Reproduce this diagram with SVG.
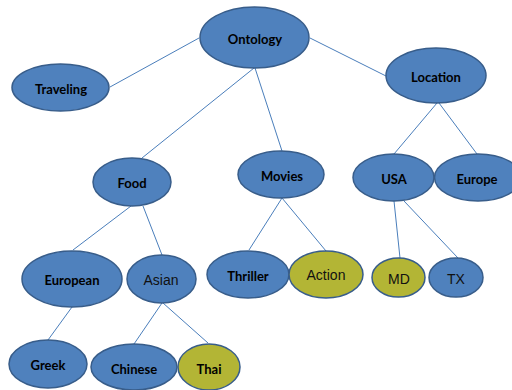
<svg xmlns="http://www.w3.org/2000/svg" width="512" height="390" viewBox="0 0 512 390">
<style>
.n{fill:#4F81BD;stroke:#385D8A;stroke-width:1.5}
.y{fill:#B3B535;stroke:#385D8A;stroke-width:1.5}
.b{font-family:Lato,"Liberation Sans",sans-serif;font-weight:bold;font-size:13px;fill:#000;text-anchor:middle;dominant-baseline:central}
.r{font-family:"Liberation Sans",Arial,sans-serif;font-size:14px;fill:#111;text-anchor:middle;dominant-baseline:central}
#connectors line{stroke:#4A7EBB;stroke-width:1}
</style>
<rect width="512" height="390" fill="#fff"/>
<g id="connectors">
<line x1="199" y1="38" x2="110" y2="87"/>
<line x1="310" y1="38" x2="386" y2="76"/>
<line x1="254" y1="68" x2="142" y2="158"/>
<line x1="255" y1="68" x2="282" y2="151"/>
<line x1="437" y1="103" x2="394" y2="154"/>
<line x1="439" y1="103" x2="477" y2="154"/>
<line x1="131" y1="206" x2="73" y2="250"/>
<line x1="143" y1="206" x2="162" y2="255"/>
<line x1="282" y1="198" x2="249" y2="250"/>
<line x1="282" y1="198" x2="326" y2="251"/>
<line x1="394" y1="201" x2="400" y2="258"/>
<line x1="404" y1="201" x2="458" y2="258"/>
<line x1="72" y1="307" x2="48" y2="340"/>
<line x1="162" y1="303" x2="134" y2="344"/>
<line x1="163" y1="303" x2="208" y2="343"/>
</g>
<g id="ontology"><ellipse class="n" cx="254.5" cy="37.5" rx="54.5" ry="30.5"/><text class="b" x="255" y="39">Ontology</text></g>
<g id="traveling"><ellipse class="n" cx="60.5" cy="87.5" rx="48.5" ry="23.5"/><text class="b" x="61" y="89">Traveling</text></g>
<g id="location"><ellipse class="n" cx="436" cy="75.5" rx="50" ry="27.5"/><text class="b" x="436" y="77">Location</text></g>
<g id="food"><ellipse class="n" cx="132" cy="182" rx="39" ry="24"/><text class="b" x="132" y="183">Food</text></g>
<g id="movies"><ellipse class="n" cx="281" cy="174.5" rx="43" ry="23.5"/><text class="b" x="282" y="176">Movies</text></g>
<g id="usa"><ellipse class="n" cx="393.5" cy="177.5" rx="40.5" ry="23.5"/><text class="b" x="394" y="179">USA</text></g>
<g id="europe"><ellipse class="n" cx="478" cy="177.5" rx="43.5" ry="23.5"/><text class="b" x="477" y="179">Europe</text></g>
<g id="european"><ellipse class="n" cx="72" cy="279" rx="50" ry="28"/><text class="b" x="72" y="280">European</text></g>
<g id="asian"><ellipse class="n" cx="161.5" cy="279" rx="34.5" ry="24"/><text class="r" x="161" y="280">Asian</text></g>
<g id="thriller"><ellipse class="n" cx="248" cy="274.5" rx="41" ry="23.5"/><text class="b" x="248" y="276">Thriller</text></g>
<g id="action"><ellipse class="y" cx="326" cy="274.5" rx="37" ry="23.5"/><text class="r" x="326" y="275">Action</text></g>
<g id="md"><ellipse class="y" cx="398.5" cy="277.5" rx="26.5" ry="19.5"/><text class="r" x="399" y="279">MD</text></g>
<g id="tx"><ellipse class="n" cx="456" cy="277.5" rx="27" ry="19.5"/><text class="r" x="456" y="279">TX</text></g>
<g id="greek"><ellipse class="n" cx="48" cy="364" rx="39" ry="24"/><text class="b" x="48" y="365">Greek</text></g>
<g id="chinese"><ellipse class="n" cx="134" cy="367" rx="43" ry="23"/><text class="b" x="134" y="369">Chinese</text></g>
<g id="thai"><ellipse class="y" cx="209" cy="367" rx="31" ry="23"/><text class="b" x="209" y="369">Thai</text></g>
</svg>
